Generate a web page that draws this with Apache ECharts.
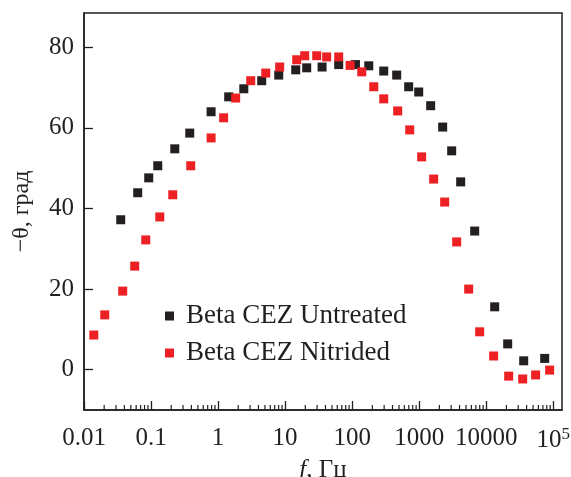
<!DOCTYPE html>
<html>
<head>
<meta charset="utf-8">
<script src="https://cdn.jsdelivr.net/npm/echarts@6/dist/echarts.min.js"></script>
<style>html,body{margin:0;padding:0;background:#fff}#c{width:571px;height:477px}</style>
</head>
<body>
<div id="c"></div>
<script>
// ---- data ----
const seriesNames = ['Beta CEZ Untreated', 'Beta CEZ Nitrided'];
const untreatedF = [0.0353,0.0633,0.0924,0.126,0.226,0.378,0.787,1.44,2.42,4.48,8.03,14.4,21.0,35.6,63.0,112,177,296,462,697,984,1484,2240,3053,4158,6728,13370,20890,36220,74500];
const untreatedTheta = [37.2,43.9,47.6,50.6,54.8,58.7,64.0,67.7,69.7,71.7,73.1,74.4,74.9,75.1,75.7,75.7,75.4,74.1,73.1,70.2,68.9,65.5,60.2,54.3,46.6,34.4,15.6,6.4,2.2,2.8];
const nitridedF = [0.0140,0.0204,0.0378,0.0571,0.0834,0.135,0.211,0.391,0.787,1.21,1.83,3.07,5.14,8.30,14.9,19.6,29.6,41.7,63.0,93.2,139,210,296,478,722,1089,1644,2400,3625,5473,7983,12910,21630,34990,54580,88310];
const nitridedTheta = [8.6,13.6,19.5,25.7,32.2,37.9,43.4,50.6,57.5,62.5,67.4,71.7,73.6,75.1,76.9,77.9,77.9,77.6,77.6,75.5,73.9,70.2,67.2,64.2,59.5,52.8,47.3,41.6,31.7,20.0,9.4,3.4,-1.6,-2.3,-1.3,-0.1];
const xTickLabels = ['0.01','0.1','1','10','100','1000','10000','10{sup|5}'];
const yTickLabels = [0,20,40,60,80];
const xMin = 0.01, xMax = 135000, yMin = -10, yMax = 88.5;

// minor tick positions (2..9 in each decade)
const minorTicks = [];
for (let e = -2; e <= 5; e++) {
  for (let m = 2; m <= 9; m++) {
    const v = m * Math.pow(10, e);
    if (v < xMax) minorTicks.push([v, yMin]);
  }
}

const ink = '#231f20';
const font = 'Liberation Serif';

const chart = echarts.init(document.getElementById('c'), null, {renderer: 'canvas'});
chart.setOption({
  backgroundColor: '#fff',
  animation: false,
  grid: {left: 84, right: 9, top: 13, bottom: 67, show: true, borderColor: ink, borderWidth: 1.5,
    backgroundColor: 'transparent', containLabel: false, outerBoundsMode: 'none'},
  legend: {
    data: seriesNames,
    orient: 'vertical',
    left: 160, top: 296,
    itemWidth: 9, itemHeight: 9, itemGap: 7,
    icon: 'rect',
    textStyle: {fontFamily: font, fontSize: 27, color: ink, lineHeight: 30, padding: [0,0,0,7]}
  },
  xAxis: {
    type: 'log', logBase: 10, min: xMin, max: xMax,
    splitLine: {show: false},
    axisLine: {show: true, onZero: false, lineStyle: {color: ink, width: 1.5}},
    axisTick: {show: true, inside: true, length: 9, lineStyle: {color: ink, width: 1.3}},
    axisLabel: {
      fontFamily: font, fontSize: 25, color: ink, margin: 16,
      showMinLabel: true, showMaxLabel: false, hideOverlap: false,
      formatter: function (v) {
        const e = Math.round(Math.log10(v));
        if (Math.abs(Math.log10(v) - e) > 1e-6) return '';
        const i = e + 2;
        return (i >= 0 && i < xTickLabels.length) ? xTickLabels[i] : '';
      },
      rich: {sup: {fontFamily: font, fontSize: 17, color: ink, verticalAlign: 'top', padding: [0,0,12,0]}}
    },
    name: '{it|f}, Гц', nameLocation: 'middle', nameGap: 48,
    nameTextStyle: {fontFamily: font, fontSize: 25, color: ink,
      rich: {it: {fontFamily: font, fontStyle: 'italic', fontSize: 25, color: ink}}}
  },
  yAxis: {
    type: 'value', min: yMin, max: yMax, splitNumber: 5,
    splitLine: {show: false},
    axisLine: {show: true, onZero: false, lineStyle: {color: ink, width: 1.5}},
    axisTick: {show: true, inside: true, length: 9, lineStyle: {color: ink, width: 1.3}},
    axisLabel: {
      fontFamily: font, fontSize: 25, color: ink, margin: 10,
      showMinLabel: false, showMaxLabel: false,
      formatter: function (v) { return yTickLabels.indexOf(v) >= 0 ? String(v) : ''; }
    },
    name: '\u2212\u03b8, град', nameLocation: 'middle', nameGap: 50, nameRotate: 90,
    nameTextStyle: {fontFamily: font, fontSize: 24, color: ink}
  },
  series: [
    {
      name: seriesNames[0], type: 'scatter', symbol: 'rect', symbolSize: 9,
      itemStyle: {color: ink, opacity: 1}, z: 3,
      data: untreatedF.map((f, i) => [f, untreatedTheta[i]])
    },
    {
      name: seriesNames[1], type: 'scatter', symbol: 'rect', symbolSize: 9,
      itemStyle: {color: '#ed2024', opacity: 1}, z: 4,
      data: nitridedF.map((f, i) => [f, nitridedTheta[i]])
    },
    {
      name: 'minorTicks', type: 'custom', silent: true, z: 5, clip: false,
      renderItem: function (params, api) {
        const p = api.coord([api.value(0), api.value(1)]);
        return {type: 'line', shape: {x1: p[0], y1: p[1], x2: p[0], y2: p[1] - 5},
          style: {stroke: ink, lineWidth: 1.2}};
      },
      data: minorTicks
    }
  ]
});
</script>
</body>
</html>
